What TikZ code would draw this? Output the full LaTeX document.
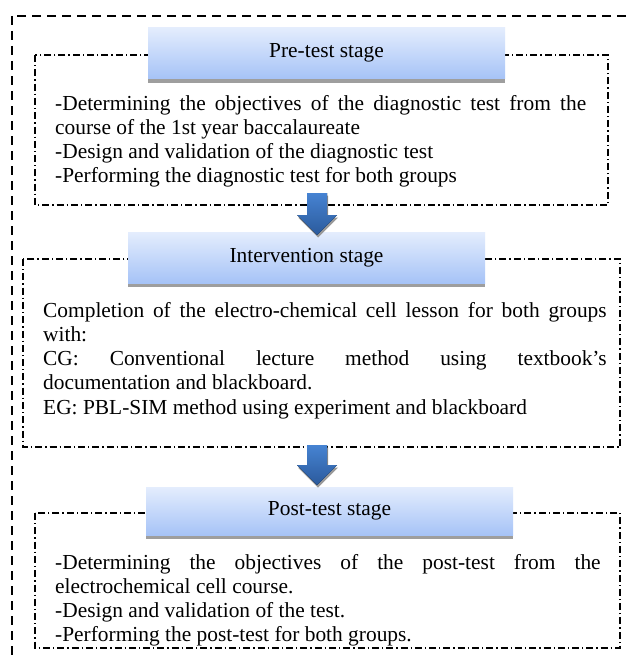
\documentclass[tikz,border=0pt]{standalone}
\usepackage{fontspec}
\setmainfont{Liberation Serif}
\usepackage{xcolor}
\usepackage{tikz}
\usetikzlibrary{shadows}

\definecolor{headtop}{HTML}{E4EDFD}
\definecolor{headbot}{HTML}{A6C3F7}
\definecolor{arrowtop}{HTML}{4683D2}
\definecolor{arrowbot}{HTML}{2B5A9C}

\hyphenpenalty=10000
\exhyphenpenalty=10000
\tolerance=10000

\tikzset{
  outerbox/.style={dash pattern=on 9pt off 6pt, line width=2.2pt},
  stageframe/.style={dash pattern=on 7pt off 3pt on 1.3pt off 3pt, line width=1.3pt},
  stagehead/.style={top color=headtop, bottom color=headbot, minimum width=357pt,
    minimum height=51pt, inner sep=0pt,
    drop shadow={shadow xshift=0pt, shadow yshift=-4pt, fill=black!38, opacity=1}},
  stagebody/.style={anchor=base west, inner sep=0pt, align=justify},
  blockarrow/.style={top color=arrowtop, bottom color=arrowbot,
    drop shadow={shadow xshift=1pt, shadow yshift=-2.5pt, fill=black!40, opacity=1}}
}

\begin{document}
\begin{tikzpicture}[x=1pt, y=-1pt, font=\fontsize{21.4}{24.3}\selectfont]
    \useasboundingbox (0,0) rectangle (629,661);
    \path[clip] (0,0) rectangle (629,661);
    \fill[white] (0,0) rectangle (629,661);
    % outer frame
    \draw[outerbox] (12,16) rectangle (645,680);
    % stage frames
    \draw[stageframe] (35,55) rectangle (608,205);
    \draw[stageframe] (23,259) rectangle (620,447);
    \draw[stageframe] (35,513) rectangle (620,648);
    % titles
    \node[stagehead] (pretitle) at (326.5,53) {Pre-test stage};
    \node[stagehead] (intertitle) at (306.5,257.5) {Intervention stage};
    \node[stagehead, minimum width=367pt, minimum height=48pt] (posttitle) at (329.5,511) {Post-test stage};
    % texts
    \node[stagebody, text width=531pt] (prebody) at (55,110)
      {-Determining the objectives of the diagnostic test from the\linebreak
       course of the 1st year baccalaureate\par
       -Design and validation of the diagnostic test\par
       -Performing the diagnostic test for both groups};
    \node[stagebody, text width=563.5pt] (interbody) at (43,317)
      {Completion of the electro-chemical cell lesson for both groups\linebreak
       with:\par
       CG: Conventional lecture method using textbook’s\linebreak
       documentation and blackboard.\par
       EG: PBL-SIM method using experiment and blackboard};
    \node[stagebody, text width=545.5pt] (postbody) at (55,569)
      {-Determining the objectives of the post-test from the\linebreak
       electrochemical cell course.\par
       -Design and validation of the test.\par
       -Performing the post-test for both groups.};
    % arrows
    \coordinate (arr1) at (317,193);
    \coordinate (arr2) at (317,445);
    \fill[blockarrow] (arr1) ++(-10,0) -- ++(20,0) -- ++(0,22) -- ++(10,0) -- ++(-20,20) -- ++(-20,-20) -- ++(10,0) -- cycle;
    \fill[blockarrow] (arr2) ++(-10,0) -- ++(20,0) -- ++(0,20) -- ++(10,0) -- ++(-20,20) -- ++(-20,-20) -- ++(10,0) -- cycle;
\end{tikzpicture}
\end{document}
